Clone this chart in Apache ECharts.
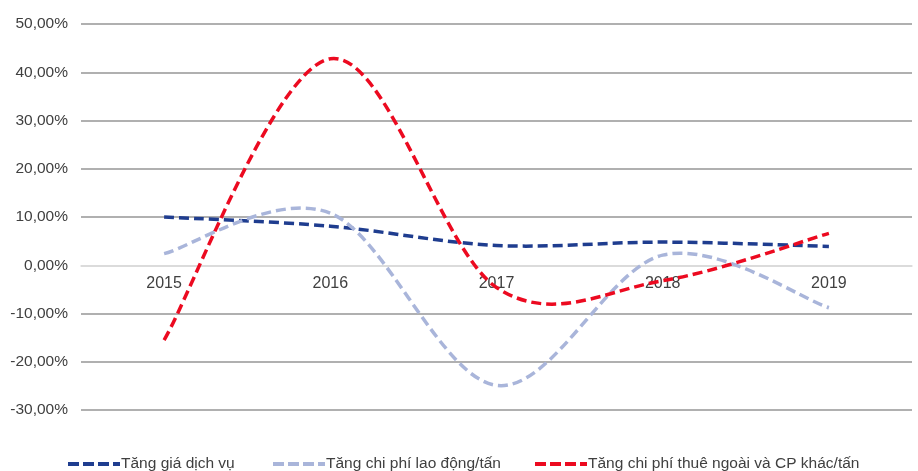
<!DOCTYPE html>
<html>
<head>
<meta charset="utf-8">
<script src="https://cdn.jsdelivr.net/npm/echarts@6/dist/echarts.min.js"></script>
<style>
  html, body { margin: 0; padding: 0; background: #ffffff; }
  #chart { width: 918px; height: 471px; }
</style>
</head>
<body>
<div id="chart"></div>
<script>
// Years on the category axis
const years = ['2015', '2016', '2017', '2018', '2019'];

// Growth rates in percent
const serviceRate = [10.0, 8.1, 4.1, 4.8, 3.9];
const laborCostPerTon = [2.4, 10.8, -24.9, 2.1, -8.8];
const outsourcingCostPerTon = [-15.5, 42.8, -4.6, -3.2, 6.6];

// Series names
const seriesNames = [
  'Tăng giá dịch vụ',
  'Tăng chi phí lao động/tấn',
  'Tăng chi phí thuê ngoài và CP khác/tấn'
];

const colors = ['#1f3d8f', '#a9b5da', '#ec0a20'];
const FONT = 'Liberation Sans, Arial, sans-serif';

const fmt = v => v.toFixed(2).replace('.', ',') + '%';

// Dashed-line legend marker
const dashIcon = 'path://M0,0h11v4h-11z M15,0h11v4h-11z M30,0h11v4h-11z M45,0h7v4h-7z';

// Cardinal spline through the projected points (Catmull-Rom, 1/6 handles)
function splinePath(pts) {
  let d = 'M' + pts[0][0] + ',' + pts[0][1];
  for (let i = 0; i < pts.length - 1; i++) {
    const p0 = pts[Math.max(i - 1, 0)];
    const p1 = pts[i];
    const p2 = pts[i + 1];
    const p3 = pts[Math.min(i + 2, pts.length - 1)];
    const c1x = p1[0] + (p2[0] - p0[0]) / 6;
    const c1y = p1[1] + (p2[1] - p0[1]) / 6;
    const c2x = p2[0] - (p3[0] - p1[0]) / 6;
    const c2y = p2[1] - (p3[1] - p1[1]) / 6;
    d += ' C' + c1x + ',' + c1y + ' ' + c2x + ',' + c2y + ' ' + p2[0] + ',' + p2[1];
  }
  return d;
}

function splineSeries(name, values, color) {
  return {
    name: name,
    type: 'custom',
    data: values.map((v, i) => [i, v]),
    encode: { x: 0, y: 1 },
    itemStyle: { color: color },
    z: 3,
    renderItem: function (params, api) {
      if (params.dataIndex !== 0) return null;
      const pts = values.map((v, i) => api.coord([i, v]));
      return {
        type: 'path',
        shape: { pathData: splinePath(pts) },
        style: {
          fill: 'none',
          stroke: color,
          lineWidth: 3.5,
          lineDash: [10, 5],
          lineCap: 'butt'
        }
      };
    }
  };
}

function legendAt(name, left) {
  return {
    data: [{ name: name, icon: dashIcon }],
    left: left,
    top: 451,
    itemWidth: 52,
    itemHeight: 4,
    textStyle: { fontFamily: FONT, fontSize: 15.5, color: '#404040', padding: [0, 0, 0, -4] }
  };
}

const gridTop = 24, gridBottom = 61, chartH = 471;
const yMin = -30, yMax = 50;
// shift the category axis up onto the zero line
const zeroOffset = -((chartH - gridBottom - gridTop) * (0 - yMin) / (yMax - yMin));

const chart = echarts.init(document.getElementById('chart'), null, { renderer: 'canvas' });

chart.setOption({
  animation: false,
  backgroundColor: '#ffffff',
  grid: { left: 81, right: 6, top: gridTop, bottom: gridBottom },
  legend: [
    legendAt(seriesNames[0], 63),
    legendAt(seriesNames[1], 268),
    legendAt(seriesNames[2], 530)
  ],
  xAxis: {
    type: 'category',
    data: years,
    boundaryGap: true,
    offset: zeroOffset,
    axisLine: { onZero: false, lineStyle: { color: '#d9d9d9', width: 1.5 } },
    axisTick: { show: false },
    axisLabel: { fontFamily: FONT, fontSize: 16, color: '#404040', margin: 10 },
    splitLine: { show: false }
  },
  yAxis: {
    type: 'value',
    min: yMin,
    max: yMax,
    interval: 10,
    axisLine: { show: false },
    axisTick: { show: false },
    axisLabel: {
      fontFamily: FONT,
      fontSize: 15.5,
      color: '#404040',
      margin: 13,
      formatter: fmt
    },
    splitLine: {
      lineStyle: {
        color: ['#969696', '#969696', '#969696', '#d9d9d9', '#969696', '#969696', '#969696', '#969696', '#969696'],
        width: 1.5
      }
    }
  },
  series: [
    splineSeries(seriesNames[0], serviceRate, colors[0]),
    splineSeries(seriesNames[1], laborCostPerTon, colors[1]),
    splineSeries(seriesNames[2], outsourcingCostPerTon, colors[2])
  ]
});
</script>
</body>
</html>
